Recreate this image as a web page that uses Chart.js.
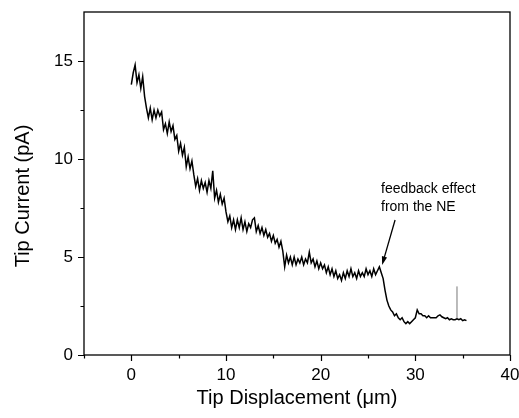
<!DOCTYPE html>
<html>
<head>
<meta charset="utf-8">
<script src="https://cdn.jsdelivr.net/npm/chart.js@4/dist/chart.umd.min.js"></script>
<style>
  html, body { margin: 0; padding: 0; background: #fff; }
  canvas { display: block; }
</style>
</head>
<body>
<canvas id="chart" width="519" height="418"></canvas>
<script>
// Tip current vs tip displacement

const displacement = [
    0.0, 0.2, 0.4, 0.6, 0.8, 1.0, 1.2, 1.4, 1.6, 1.8,
    2.0, 2.2, 2.4, 2.6, 2.8, 3.0, 3.2, 3.4, 3.6, 3.8,
    4.0, 4.2, 4.4, 4.6, 4.8, 5.0, 5.2, 5.4, 5.6, 5.8,
    6.0, 6.2, 6.4, 6.6, 6.8, 7.0, 7.2, 7.4, 7.6, 7.8,
    8.0, 8.2, 8.4, 8.6, 8.8, 9.0, 9.2, 9.4, 9.6, 9.8,
    10.0, 10.2, 10.4, 10.6, 10.8, 11.0, 11.2, 11.4, 11.6, 11.8,
    12.0, 12.2, 12.4, 12.6, 12.8, 13.0, 13.2, 13.4, 13.6, 13.8,
    14.0, 14.2, 14.4, 14.6, 14.8, 15.0, 15.2, 15.4, 15.6, 15.8,
    16.0, 16.2, 16.4, 16.6, 16.8, 17.0, 17.2, 17.4, 17.6, 17.8,
    18.0, 18.2, 18.4, 18.6, 18.8, 19.0, 19.2, 19.4, 19.6, 19.8,
    20.0, 20.2, 20.4, 20.6, 20.8, 21.0, 21.2, 21.4, 21.6, 21.8,
    22.0, 22.2, 22.4, 22.6, 22.8, 23.0, 23.2, 23.4, 23.6, 23.8,
    24.0, 24.2, 24.4, 24.6, 24.8, 25.0, 25.2, 25.4, 25.6, 25.8,
    26.0, 26.2, 26.4, 26.6, 26.8, 27.0, 27.2, 27.4, 27.6, 27.8,
    28.0, 28.2, 28.4, 28.6, 28.8, 29.0, 29.2, 29.4, 29.6, 29.8,
    30.0, 30.2, 30.4, 30.6, 30.8, 31.0, 31.2, 31.4, 31.6, 31.8,
    32.0, 32.2, 32.4, 32.6, 32.8, 33.0, 33.2, 33.4, 33.6, 33.8,
    34.0, 34.2, 34.4, 34.6, 34.8, 35.0, 35.2, 35.4
];

const tipCurrent = [
    13.8, 14.4, 14.8, 13.9, 14.3, 13.6, 14.2, 13.2, 12.6, 12.1,
    12.6, 12.0, 12.5, 12.1, 12.5, 12.2, 12.4, 11.5, 11.8, 11.3,
    11.9, 11.4, 11.7, 11.0, 11.2, 10.4, 10.8, 10.2, 10.6, 9.6,
    10.1, 9.5, 9.9, 9.2, 8.6, 9.0, 8.4, 8.9, 8.5, 8.8,
    8.3, 8.9, 8.5, 9.4, 8.0, 8.4, 7.8, 8.2, 7.7, 8.0,
    7.3, 6.8, 7.1, 6.5, 6.9, 6.4, 6.9, 6.5, 7.0, 6.4,
    6.8, 6.3, 6.7, 6.5, 6.9, 7.0, 6.3, 6.6, 6.2, 6.5,
    6.1, 6.4, 6.0, 6.2, 5.8, 6.1, 5.7, 5.9, 5.5, 5.8,
    5.3, 4.5, 5.1, 4.7, 5.0, 4.6, 5.0, 4.6, 4.9, 4.7,
    5.0, 4.6, 4.9, 4.7, 5.25, 4.7, 4.9, 4.5, 4.8, 4.4,
    4.7, 4.4, 4.6, 4.2, 4.5, 4.1, 4.4, 4.0, 4.3, 3.9,
    4.1, 3.8, 4.2, 3.9, 4.3, 4.0, 4.4, 4.0, 4.2, 3.9,
    4.3, 4.0, 4.2, 4.0, 4.4, 4.1, 4.3, 4.0, 4.4, 4.1,
    4.3, 4.5, 4.2, 3.9, 3.3, 2.8, 2.5, 2.3, 2.2, 2.0,
    2.1, 1.9, 1.8, 1.9, 1.7, 1.6, 1.7, 1.6, 1.7, 1.8,
    1.9, 2.3, 2.1, 2.1, 2.0, 2.0, 1.9, 2.0, 1.9, 1.9,
    1.9, 1.9, 2.0, 2.05, 1.95, 1.9, 1.85, 1.9, 1.8, 1.85,
    1.8, 1.8, 1.85, 1.8, 1.85, 1.75, 1.8, 1.75
];

// single-sample glitch near the end of the trace
const spikeX = [34.4, 34.4];
const spikeY = [1.85, 3.5];

const xMajorTicks = [0, 10, 20, 30, 40];
const xMinorTicks = [-5, 5, 15, 25, 35];
const yMajorTicks = [0, 5, 10, 15];
const yMinorTicks = [2.5, 7.5, 12.5];

const xTitle = 'Tip Displacement (\u03bcm)';
const yTitle = 'Tip Current (pA)';
const noteLines = ['feedback effect', 'from the NE'];
const arrowFrom = { x: 27.86, y: 6.89 };
const arrowTo = { x: 26.49, y: 4.59 };

const FONT = '"Liberation Sans", Arial, Helvetica, sans-serif';

function toPoints(xs, ys) {
    return xs.map((x, i) => ({ x: x, y: ys[i] }));
}

const decorPlugin = {
    id: 'decor',
    afterDraw(chart) {
        const ctx = chart.ctx;
        const area = chart.chartArea;
        const xs = chart.scales.x;
        const ys = chart.scales.y;
        ctx.save();

        // frame
        ctx.strokeStyle = '#000';
        ctx.lineWidth = 1.3;
        ctx.strokeRect(area.left, area.top, area.right - area.left, area.bottom - area.top);

        // outward tick marks
        ctx.lineWidth = 1.2;
        ctx.beginPath();
        xMajorTicks.forEach(v => {
            const px = Math.round(xs.getPixelForValue(v)) + 0.5;
            ctx.moveTo(px, area.bottom);
            ctx.lineTo(px, area.bottom + 6);
        });
        xMinorTicks.forEach(v => {
            const px = Math.round(xs.getPixelForValue(v)) + 0.5;
            ctx.moveTo(px, area.bottom);
            ctx.lineTo(px, area.bottom + 3.5);
        });
        yMajorTicks.forEach(v => {
            const py = Math.round(ys.getPixelForValue(v)) + 0.5;
            ctx.moveTo(area.left, py);
            ctx.lineTo(area.left - 6, py);
        });
        yMinorTicks.forEach(v => {
            const py = Math.round(ys.getPixelForValue(v)) + 0.5;
            ctx.moveTo(area.left, py);
            ctx.lineTo(area.left - 3.5, py);
        });
        ctx.stroke();

        // axis titles
        ctx.fillStyle = '#000';
        ctx.font = '20px ' + FONT;
        ctx.textAlign = 'center';
        ctx.textBaseline = 'middle';
        ctx.fillText(xTitle, (area.left + area.right) / 2, 398);
        ctx.save();
        ctx.translate(23, 196);
        ctx.rotate(-Math.PI / 2);
        ctx.fillText(yTitle, 0, 0);
        ctx.restore();

        // annotation
        ctx.font = '14px ' + FONT;
        ctx.textAlign = 'left';
        ctx.textBaseline = 'alphabetic';
        ctx.fillText(noteLines[0], 381, 193);
        ctx.fillText(noteLines[1], 381, 211);

        const x0 = xs.getPixelForValue(arrowFrom.x), y0 = ys.getPixelForValue(arrowFrom.y);
        const x1 = xs.getPixelForValue(arrowTo.x), y1 = ys.getPixelForValue(arrowTo.y);
        const ang = Math.atan2(y1 - y0, x1 - x0);
        const head = 9;
        ctx.lineWidth = 1.3;
        ctx.beginPath();
        ctx.moveTo(x0, y0);
        ctx.lineTo(x1 - Math.cos(ang) * head * 0.8, y1 - Math.sin(ang) * head * 0.8);
        ctx.stroke();
        ctx.beginPath();
        ctx.moveTo(x1, y1);
        ctx.lineTo(x1 - head * Math.cos(ang - 0.3), y1 - head * Math.sin(ang - 0.3));
        ctx.lineTo(x1 - head * Math.cos(ang + 0.3), y1 - head * Math.sin(ang + 0.3));
        ctx.closePath();
        ctx.fill();

        ctx.restore();
    }
};

document.addEventListener('DOMContentLoaded', function () {
    const ctx = document.getElementById('chart').getContext('2d');
    new Chart(ctx, {
        type: 'scatter',
        data: {
            datasets: [
                {
                    data: toPoints(displacement, tipCurrent),
                    showLine: true,
                    borderColor: '#000',
                    borderWidth: 1.5,
                    pointRadius: 0,
                    tension: 0
                },
                {
                    data: toPoints(spikeX, spikeY),
                    showLine: true,
                    borderColor: '#777',
                    borderWidth: 1,
                    pointRadius: 0
                }
            ]
        },
        options: {
            responsive: false,
            animation: false,
            layout: { padding: { top: 12, right: 9, left: 0, bottom: 0 } },
            plugins: {
                legend: { display: false },
                tooltip: { enabled: false }
            },
            scales: {
                x: {
                    type: 'linear',
                    min: -5,
                    max: 40,
                    afterBuildTicks: s => { s.ticks = xMajorTicks.map(v => ({ value: v })); },
                    afterFit: s => { s.height = 63; s.paddingLeft = 0; s.paddingRight = 0; },
                    grid: { display: false, drawTicks: false },
                    border: { display: false },
                    ticks: {
                        color: '#000',
                        font: { family: FONT, size: 17 },
                        padding: 10,
                        maxRotation: 0
                    }
                },
                y: {
                    type: 'linear',
                    min: 0,
                    max: 17.5,
                    afterBuildTicks: s => { s.ticks = yMajorTicks.map(v => ({ value: v })); },
                    afterFit: s => { s.width = 84; s.paddingTop = 0; s.paddingBottom = 0; },
                    grid: { display: false, drawTicks: false },
                    border: { display: false },
                    ticks: {
                        color: '#000',
                        font: { family: FONT, size: 17 },
                        padding: 11
                    }
                }
            }
        },
        plugins: [decorPlugin]
    });
});
</script>
</body>
</html>
